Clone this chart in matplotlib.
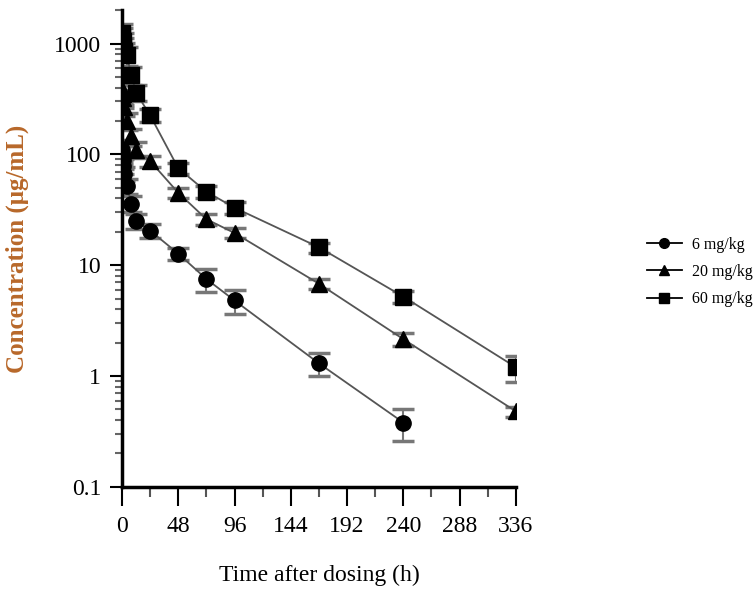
import matplotlib
matplotlib.use('Agg')
import matplotlib.pyplot as plt
from matplotlib.lines import Line2D
from matplotlib.ticker import FixedLocator, FuncFormatter, LogLocator, NullFormatter

# datos
tiempo = [0.083, 0.25, 0.5, 1, 2, 4, 8, 12, 24, 48, 72, 96, 168, 240, 336]
dosis = ['6 mg/kg', '20 mg/kg', '60 mg/kg']
marcadores = ['o', '^', 's']

conc_6 = [110, 100, 88, 78, 67, 52, 36, 25, 20.5, 12.7, 7.5, 4.8, 1.3, 0.38]
sd_6 = [25, 20, 15, 12, 10, 8, 6, 4, 3, 1.5, 1.8, 1.2, 0.3, 0.12]

conc_20 = [390, 370, 350, 320, 265, 200, 145, 110, 87, 45, 26, 19.5, 6.8, 2.15, 0.48]
sd_20 = [90, 80, 70, 60, 45, 35, 25, 18, 10, 5, 3, 2, 0.7, 0.28, 0.05]

conc_60 = [1250, 1150, 1050, 950, 850, 780, 520, 360, 225, 75, 46, 33, 14.5, 5.2, 1.2]
sd_60 = [250, 220, 200, 180, 160, 150, 100, 60, 30, 8, 6, 4, 1.5, 0.65, 0.32]

series = [(tiempo[:len(conc_6)], conc_6, sd_6),
          (tiempo, conc_20, sd_20),
          (tiempo, conc_60, sd_60)]

plt.rcParams['font.family'] = ['Liberation Serif', 'DejaVu Serif']

fig = plt.figure(figsize=(7.53, 5.98), dpi=100)
ax = fig.add_axes([0.162, 0.186, 0.523, 0.797])

for (t, c, s), m in zip(series, marcadores):
    ax.errorbar(t, c, yerr=s, fmt='-', color='#555555', lw=1.3,
                ecolor='#777777', elinewidth=1.5, capsize=8, capthick=2.5, zorder=2)
    ax.plot(t, c, linestyle='none', marker=m, color='black', markersize=11, zorder=3)

ax.set_yscale('log')
ax.set_ylim(0.1, 2000)
ax.set_xlim(0, 336)

ax.xaxis.set_major_locator(FixedLocator([0, 48, 96, 144, 192, 240, 288, 336]))
ax.xaxis.set_minor_locator(FixedLocator([24, 72, 120, 168, 216, 264, 312]))
ax.yaxis.set_major_locator(FixedLocator([0.1, 1, 10, 100, 1000]))
ax.yaxis.set_major_formatter(FuncFormatter(lambda v, p: '%g' % v))
ax.yaxis.set_minor_locator(LogLocator(base=10, subs=range(2, 10)))
ax.yaxis.set_minor_formatter(NullFormatter())

for lado in ['top', 'right']:
    ax.spines[lado].set_visible(False)
ax.spines['left'].set_linewidth(2.5)
ax.spines['bottom'].set_linewidth(2.5)

ax.tick_params(axis='x', which='major', length=14, width=1.5, labelsize=17, pad=7)
ax.tick_params(axis='x', which='minor', length=7, width=1.5, color='#555555')
ax.tick_params(axis='y', which='major', length=9, width=1.5, labelsize=17, pad=6)
ax.tick_params(axis='y', which='minor', length=5, width=1.5, color='#666666')

ax.set_xlabel('Time after dosing (h)', fontsize=17, labelpad=20)
ax.set_ylabel('Concentration (μg/mL)', fontsize=18, fontweight='bold',
              color='#b8682a', labelpad=18)

manijas = [Line2D([], [], color='black', lw=1.3, marker=m, markersize=7)
           for m in marcadores]
fig.legend(manijas, dosis, loc='center left', bbox_to_anchor=(0.84, 0.545),
           frameon=False, fontsize=11.5, handlelength=2.2, labelspacing=0.7,
           handletextpad=0.6)

fig.savefig('out.png', dpi=100)
